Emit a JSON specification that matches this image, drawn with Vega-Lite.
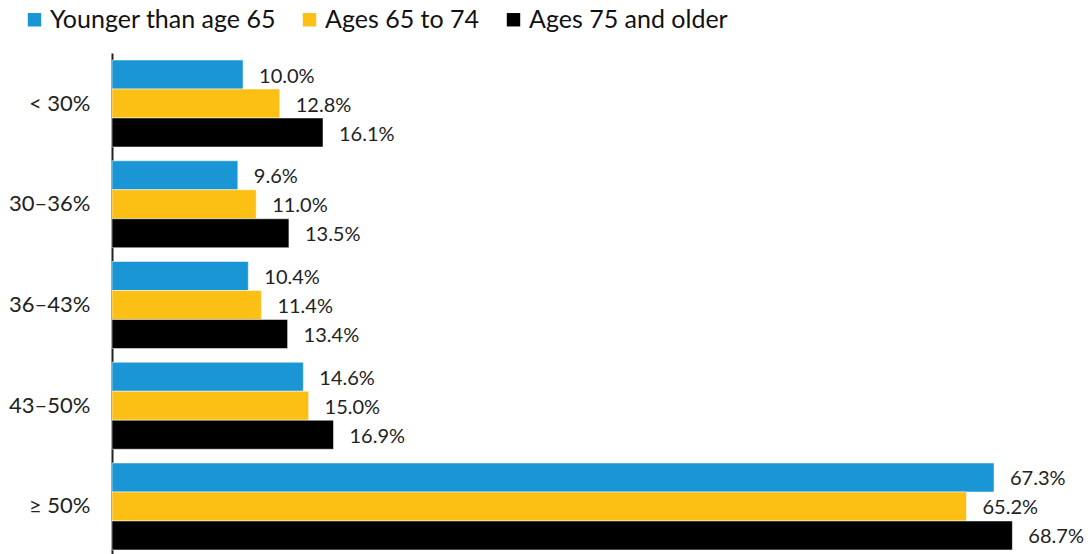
{
  "$schema": "https://vega.github.io/schema/vega-lite/v6.json",
  "width": 979,
  "height": 504,
  "autosize": {"type": "none"},
  "padding": {"left": 112, "top": 53, "right": 0, "bottom": 0},
  "background": "white",
  "config": {
    "font": "Lato",
    "view": {"stroke": null}
  },
  "data": {
    "values": [
      {"cat": "< 30%", "group": "Younger than age 65", "value": 10.0},
      {"cat": "< 30%", "group": "Ages 65 to 74", "value": 12.8},
      {"cat": "< 30%", "group": "Ages 75 and older", "value": 16.1},
      {"cat": "30–36%", "group": "Younger than age 65", "value": 9.6},
      {"cat": "30–36%", "group": "Ages 65 to 74", "value": 11.0},
      {"cat": "30–36%", "group": "Ages 75 and older", "value": 13.5},
      {"cat": "36–43%", "group": "Younger than age 65", "value": 10.4},
      {"cat": "36–43%", "group": "Ages 65 to 74", "value": 11.4},
      {"cat": "36–43%", "group": "Ages 75 and older", "value": 13.4},
      {"cat": "43–50%", "group": "Younger than age 65", "value": 14.6},
      {"cat": "43–50%", "group": "Ages 65 to 74", "value": 15.0},
      {"cat": "43–50%", "group": "Ages 75 and older", "value": 16.9},
      {"cat": "≥ 50%", "group": "Younger than age 65", "value": 67.3},
      {"cat": "≥ 50%", "group": "Ages 65 to 74", "value": 65.2},
      {"cat": "≥ 50%", "group": "Ages 75 and older", "value": 68.7}
    ]
  },
  "encoding": {
    "y": {
      "field": "cat",
      "type": "nominal",
      "sort": ["< 30%", "30–36%", "36–43%", "43–50%", "≥ 50%"],
      "scale": {"paddingInner": 0.137, "paddingOuter": 0.07},
      "axis": {
        "title": null,
        "ticks": false,
        "labelFontSize": 22,
        "labelColor": "#222222",
        "labelPadding": 22,
        "domainColor": "#222222",
        "domainWidth": 2,
        "labelFont": "Lato"
      }
    },
    "yOffset": {
      "field": "group",
      "type": "nominal",
      "sort": ["Younger than age 65", "Ages 65 to 74", "Ages 75 and older"],
      "scale": {"paddingInner": 0, "paddingOuter": 0}
    },
    "x": {
      "field": "value",
      "type": "quantitative",
      "scale": {"domain": [0, 74.7], "nice": false},
      "axis": null
    }
  },
  "layer": [
    {
      "mark": {"type": "bar", "stroke": "white", "strokeWidth": 0.5},
      "encoding": {
        "color": {
          "field": "group",
          "type": "nominal",
          "sort": ["Younger than age 65", "Ages 65 to 74", "Ages 75 and older"],
          "scale": {
            "domain": ["Younger than age 65", "Ages 65 to 74", "Ages 75 and older"],
            "range": ["#1996D3", "#FCBF14", "#000000"]
          },
          "legend": {
            "title": null,
            "orient": "none",
            "direction": "horizontal",
            "legendX": -90,
            "legendY": -46,
            "symbolType": "square",
            "symbolSize": 180,
            "symbolStrokeWidth": 0,
            "labelFontSize": 25,
            "labelFont": "Lato",
            "labelColor": "#111111",
            "labelOffset": 3,
            "labelLimit": 400,
            "columnPadding": 21
          }
        }
      }
    },
    {
      "mark": {"type": "text", "align": "left", "baseline": "middle", "dx": 16, "dy": 2, "fontSize": 20, "font": "Lato", "color": "#222222",
        "text": {"expr": "format(datum.value, '.1f') + '%'"}}
    }
  ]
}
